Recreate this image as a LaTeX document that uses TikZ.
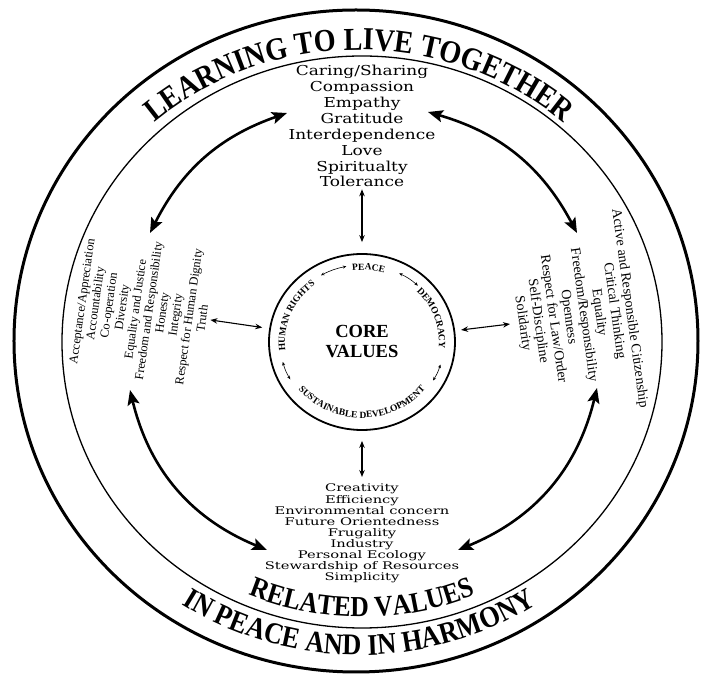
\documentclass[tikz,border=0pt]{standalone}
\usepackage{fontspec}
\setmainfont{Liberation Serif}
\newfontfamily\titlefont[FakeStretch=0.88]{Liberation Serif}
\newfontfamily\widefont[FakeStretch=1.24]{DejaVu Serif}
\newfontfamily\slabfont[FakeStretch=1.4]{DejaVu Serif}
\usetikzlibrary{arrows.meta,shapes.geometric,decorations.text}

\tikzset{
  bigarrow/.style={line width=2.6pt,
    {Stealth[length=15pt,width=12pt,inset=3pt]}-{Stealth[length=15pt,width=12pt,inset=3pt]}},
  smallarrow/.style={line width=1.1pt,
    {Stealth[length=7pt,width=5.5pt]}-{Stealth[length=7pt,width=5.5pt]}},
  tinyarrow/.style={line width=0.6pt,
    {Stealth[length=3.5pt,width=3pt]}-{Stealth[length=3.5pt,width=3pt]}},
  valuelist/.style={align=center, inner sep=0pt}
}

\begin{document}
\begin{tikzpicture}[x=1pt,y=1pt]
    \useasboundingbox (-362,-332) rectangle (340,342);

    % the two rings
    \draw[line width=3pt] (-6,1) ellipse [x radius=342pt, y radius=331pt];
    \draw[line width=1.3pt] (0,0) ellipse [x radius=300pt, y radius=286pt];

    % ring titles
    \path[decorate, decoration={text along path, text align=center,
        text={|\titlefont\bfseries\fontsize{32}{32}\selectfont|LEARNING TO LIVE TOGETHER}}]
        (-3,0) ++(172:310pt and 292pt) arc[start angle=172, end angle=8, x radius=310pt, y radius=292pt];
    \path[decorate, decoration={text along path, text align=center,
        text={|\titlefont\bfseries\fontsize{30}{30}\selectfont|IN PEACE AND IN HARMONY}}]
        (-3,0) ++(200:325pt and 313pt) arc[start angle=200, end angle=340, x radius=325pt, y radius=313pt];
    \path[decorate, decoration={text along path, text align=center,
        text={|\titlefont\bfseries\fontsize{29}{29}\selectfont|RELATED VALUES}}]
        (0,0) ++(215:289pt and 275pt) arc[start angle=215, end angle=325, x radius=289pt, y radius=275pt];

    % core
    \node[draw, ellipse, line width=1.8pt, minimum width=186pt, minimum height=176pt,
        inner sep=0pt, align=center, font=\bfseries\fontsize{18.5}{20}\selectfont] (core) at (0,0) {CORE\\VALUES};

    \path[decorate, decoration={text along path, text align=center,
        text={|\bfseries\fontsize{9.5}{10}\selectfont|PEACE}}]
        (125:77pt and 72pt) arc[start angle=125, end angle=45, x radius=77pt, y radius=72pt];
    \path[decorate, decoration={text along path, text align=center,
        text={|\bfseries\fontsize{9.5}{10}\selectfont|DEMOCRACY}}]
        (60:77pt and 72pt) arc[start angle=60, end angle=-21, x radius=77pt, y radius=72pt];
    \path[decorate, decoration={text along path, text align=center,
        text={|\bfseries\fontsize{9.5}{10}\selectfont|HUMAN RIGHTS}}]
        (200:77pt and 72pt) arc[start angle=200, end angle=115, x radius=77pt, y radius=72pt];
    \path[decorate, decoration={text along path, text align=center,
        text={|\bfseries\fontsize{9.5}{10}\selectfont|SUSTAINABLE DEVELOPMENT}}]
        (200:81pt and 76pt) arc[start angle=200, end angle=340, x radius=81pt, y radius=76pt];

    \foreach \a/\b [count=\i] in {120/101, 63/47, -17/-30, 209/195} {
        \coordinate (ca\i) at (\a:82pt and 77pt);
        \coordinate (cb\i) at (\b:82pt and 77pt);
        \draw[tinyarrow] (ca\i) to[bend left=8] (cb\i);
    }

    % the four lists
    \node[valuelist, anchor=north, font=\widefont\fontsize{13.7}{15.9}\selectfont] (toplist) at (0,277)
        {Caring/Sharing\\Compassion\\Empathy\\Gratitude\\Interdependence\\Love\\Spiritualty\\Tolerance};
    \node[valuelist, rotate=82, font=\fontsize{12.4}{13.5}\selectfont] (leftlist) at (-220,32)
        {Acceptance/Appreciation\\Accountability\\Co-operation\\Diversity\\Equality and Justice\\Freedom and Responsibility\\Honesty\\Integrity\\Respect for Human Dignity\\Truth};
    \node[valuelist, rotate=-82, font=\fontsize{14}{15.4}\selectfont] (rightlist) at (214,26)
        {Active and Responsible Citizenship\\Critical Thinking\\Equality\\Freedom/Responsibility\\Openness\\Respect for Law/Order\\Self-Discipline\\Solidarity};
    \node[valuelist, anchor=north, font=\slabfont\fontsize{10.5}{11.05}\selectfont] (bottomlist) at (0,-142)
        {Creativity\\Efficiency\\Environmental concern\\Future Orientedness\\Frugality\\Industry\\Personal Ecology\\Stewardship of Resources\\Simplicity};

    % links to the core
    \draw[smallarrow, shorten <=2pt, shorten >=11pt] (toplist) -- (core);
    \draw[smallarrow, shorten <=10pt, shorten >=7pt] (core) -- (bottomlist);
    \draw[smallarrow, shorten <=4pt, shorten >=7pt] (leftlist) -- (core);
    \draw[smallarrow, shorten <=6pt, shorten >=6pt] (rightlist) -- (core);

    % links between the lists
    \coordinate (tl1) at (-75,229);
    \coordinate (tl2) at (-212,109);
    \coordinate (tr1) at (215,109);
    \coordinate (tr2) at (66,230);
    \coordinate (bl1) at (-232,-48);
    \coordinate (bl2) at (-95,-208);
    \coordinate (br1) at (96,-208);
    \coordinate (br2) at (235,-46);
    \draw[bigarrow] (tl1) to[bend right=22] (tl2);
    \draw[bigarrow] (tr1) to[bend right=23] (tr2);
    \draw[bigarrow] (bl1) to[bend right=27] (bl2);
    \draw[bigarrow] (br1) to[bend right=27] (br2);
\end{tikzpicture}
\end{document}
